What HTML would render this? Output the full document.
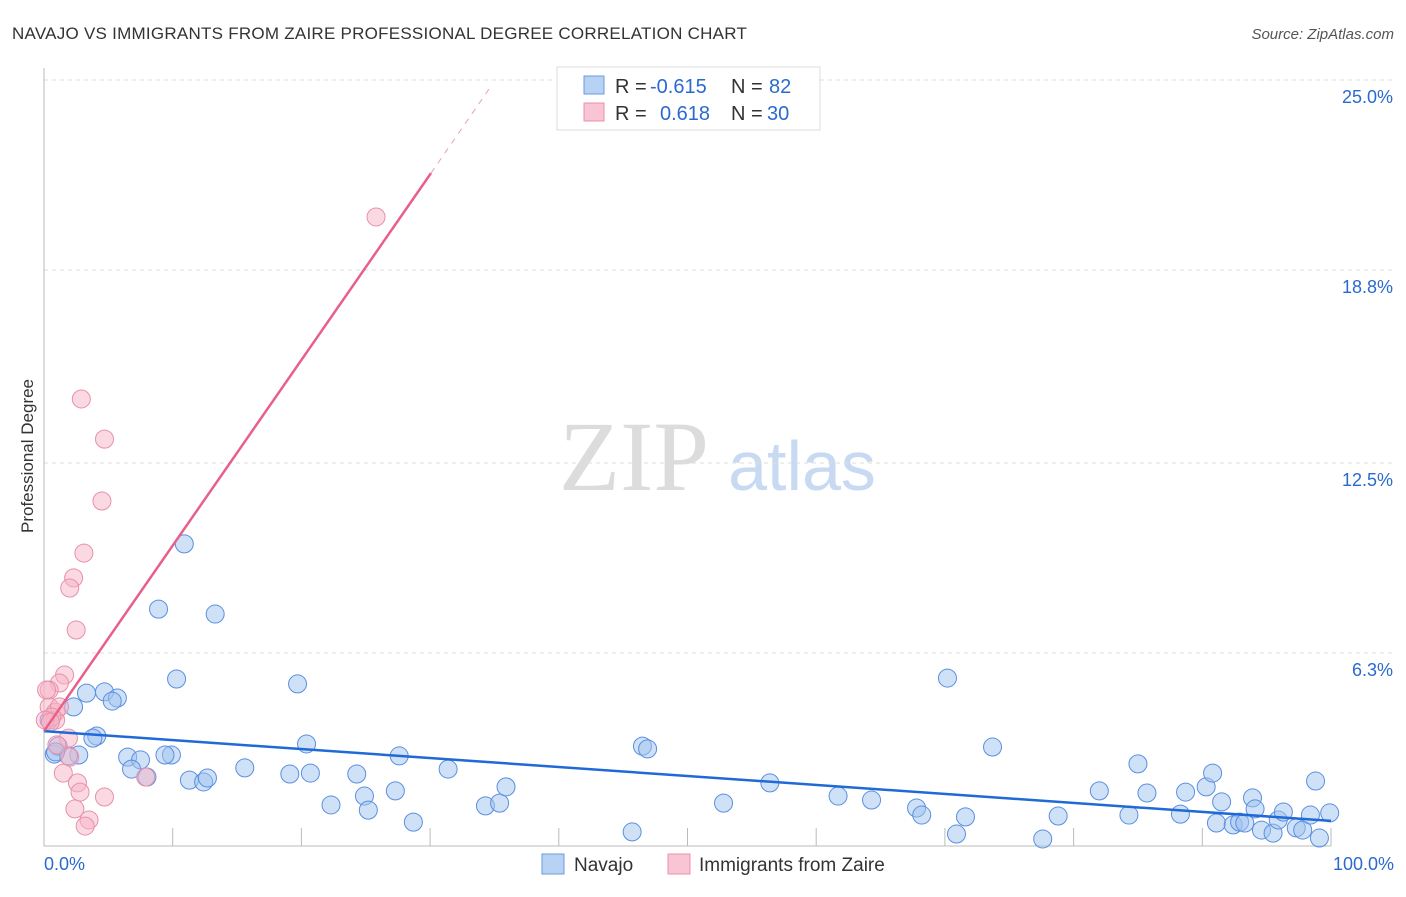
<!DOCTYPE html>
<html><head><meta charset="utf-8"><style>
body{margin:0;background:#fff;font-family:"Liberation Sans",sans-serif}
svg text{font-family:"Liberation Sans",sans-serif}
</style></head><body>
<svg id="c" width="1406" height="892" viewBox="0 0 1406 892">
<text x="12" y="39" font-size="17" fill="#333" letter-spacing="0.25">NAVAJO VS IMMIGRANTS FROM ZAIRE PROFESSIONAL DEGREE CORRELATION CHART</text>
<text x="1394" y="39" font-size="15" fill="#555" text-anchor="end" font-style="italic">Source: ZipAtlas.com</text>
<text x="33" y="456" font-size="17" fill="#333" text-anchor="middle" transform="rotate(-90 33 456)">Professional Degree</text>
<g><text x="634" y="490" font-size="100" fill="#dcdcdc" style="font-family:'Liberation Serif',serif" text-anchor="middle">ZIP</text><text x="802" y="490" font-size="70" fill="#c8daf2" text-anchor="middle">atlas</text></g>
<g id="grid"></g><g id="axes"></g><g id="pts"></g><g id="trend"></g>
<g>
<rect x="557" y="67" width="263" height="63" fill="#fff" stroke="#ddd"/>
<rect x="584" y="76" width="20" height="18" fill="#b8d2f4" stroke="#6a9ae0"/>
<rect x="584" y="103" width="20" height="18" fill="#f9c4d4" stroke="#e890a8"/>
<text x="615" y="93" font-size="20" fill="#333">R =</text>
<text x="650" y="93" font-size="20" fill="#2a6ad0">-0.615</text>
<text x="731" y="93" font-size="20" fill="#333">N =</text>
<text x="769" y="93" font-size="20" fill="#2a6ad0">82</text>
<text x="615" y="120" font-size="20" fill="#333">R =</text>
<text x="660" y="120" font-size="20" fill="#2a6ad0">0.618</text>
<text x="731" y="120" font-size="20" fill="#333">N =</text>
<text x="767" y="120" font-size="20" fill="#2a6ad0">30</text>
</g>
<g>
<rect x="542" y="854" width="22" height="20" fill="#b8d2f4" stroke="#6a9ae0"/>
<text x="574" y="871" font-size="19" fill="#333">Navajo</text>
<rect x="668" y="854" width="22" height="20" fill="#f9c4d4" stroke="#e890a8"/>
<text x="699" y="871" font-size="19" fill="#333">Immigrants from Zaire</text>
</g>
</svg>
<script>
const yTicks=[25,18.8,12.5,6.3];
const yTickLabels=["25.0%","18.8%","12.5%","6.3%"];
const xTickCount=11;
const navajoX=[10.9,8.9,13.3,10.3,19.7,3.3,4.7,5.7,5.3,2.3,4.1,3.8,20.4,6.5,7.5,9.9,9.4,2.7,0.8,1.1,1.9,6.8,15.6,11.3,12.4,12.7,19.1,20.7,24.3,8.0,22.3,24.9,25.2,27.3,27.6,31.4,28.7,34.3,35.4,35.9,46.5,46.9,45.7,52.8,56.4,61.7,64.3,67.8,68.2,70.9,71.6,70.2,73.7,77.6,78.8,82.0,84.3,85.0,85.7,88.3,88.7,90.3,90.8,91.5,91.1,92.4,92.9,93.9,94.1,93.3,94.6,95.5,95.9,96.3,97.3,97.8,98.4,98.8,99.1,99.9,0.4,0.9];
const navajoY=[9.86,7.73,7.57,5.45,5.29,4.99,5.03,4.83,4.73,4.54,3.59,3.52,3.33,2.90,2.81,2.97,2.97,2.97,3.00,3.26,2.94,2.51,2.55,2.15,2.09,2.22,2.35,2.38,2.35,2.25,1.34,1.63,1.17,1.80,2.94,2.51,0.78,1.31,1.40,1.93,3.26,3.17,0.46,1.40,2.06,1.63,1.50,1.24,1.01,0.39,0.95,5.48,3.23,0.23,0.98,1.80,1.01,2.68,1.73,1.04,1.76,1.93,2.38,1.44,0.75,0.69,0.78,1.57,1.21,0.75,0.52,0.42,0.85,1.11,0.59,0.52,1.01,2.12,0.26,1.08,4.11,3.07];
const zaireX=[25.8,2.9,4.7,4.5,3.1,2.3,2.0,2.5,1.6,1.2,0.4,0.4,0.9,0.9,1.2,0.6,1.9,2.0,1.5,2.6,2.8,4.7,2.4,3.5,3.2,7.9,1.0,0.2,0.1,0.5];
const zaireY=[20.53,14.59,13.28,11.26,9.56,8.75,8.42,7.05,5.58,5.32,5.09,4.54,4.37,4.11,4.54,4.21,3.52,2.90,2.38,2.06,1.76,1.60,1.21,0.85,0.65,2.25,3.30,5.09,4.11,4.05];
const navajoTrend=[[0,3.75],[100,0.82]];
const zaireTrendSolid=[[0,3.75],[30.07,21.96]];
const zaireTrendDash=[[30.07,21.96],[34.65,24.75]];
const NS="http://www.w3.org/2000/svg";
const X=v=>44+v*12.87, Y=v=>846-v*30.64;
function mk(t,a,p){const e=document.createElementNS(NS,t);for(const k in a)e.setAttribute(k,a[k]);p.appendChild(e);return e;}
const grid=document.getElementById('grid'),axes=document.getElementById('axes'),pts=document.getElementById('pts'),tr=document.getElementById('trend');
yTicks.forEach((t,i)=>{
 const l=mk('line',{x1:44,x2:1394,y1:Y(t),y2:Y(t),stroke:'#ddd','stroke-dasharray':'4,4'},grid);
 
 
 const tx=mk('text',{x:1393,y:Y(t)+23,'font-size':18,fill:'#2a6ad0','text-anchor':'end'},axes);
 tx.textContent=yTickLabels[i];
 
 
});
const ax=mk('path',{d:'M44 68V846H1331',stroke:'#bbb',fill:'none'},axes);


for(let i=1;i<xTickCount;i++){const tk=mk('line',{x1:X(i*10),x2:X(i*10),y1:828,y2:846,stroke:'#bbb'},axes);
 
 }
const x0=mk('text',{x:44,y:870,'font-size':18,fill:'#2a6ad0'},axes);x0.textContent='0.0%';


const x1=mk('text',{x:1394,y:870,'font-size':18,fill:'#2a6ad0','text-anchor':'end'},axes);x1.textContent='100.0%';


navajoX.forEach((v,i)=>{const c=mk('circle',{cx:X(v),cy:Y(navajoY[i]),r:9,fill:'rgba(160,195,240,0.5)',stroke:'#5b8fe0','stroke-width':1},pts);
 
 });
zaireX.forEach((v,i)=>{const c=mk('circle',{cx:X(v),cy:Y(zaireY[i]),r:9,fill:'rgba(248,180,200,0.5)',stroke:'#e890a8','stroke-width':1},pts);
 
 });
function ln(d,col,dash,name){const l=mk('line',{x1:X(d[0][0]),y1:Y(d[0][1]),x2:X(d[1][0]),y2:Y(d[1][1]),stroke:col,'stroke-width':dash?1:2.5},tr);
 if(dash)l.setAttribute('stroke-dasharray','6,6');
 
 }
ln(navajoTrend,'#1f6ad6',false,'navajo-trend-line');
ln(zaireTrendSolid,'#e8608a',false,'zaire-trend-line');
ln(zaireTrendDash,'#e8a0b8',true,'zaire-trend-extension');
</script>
</body></html>
